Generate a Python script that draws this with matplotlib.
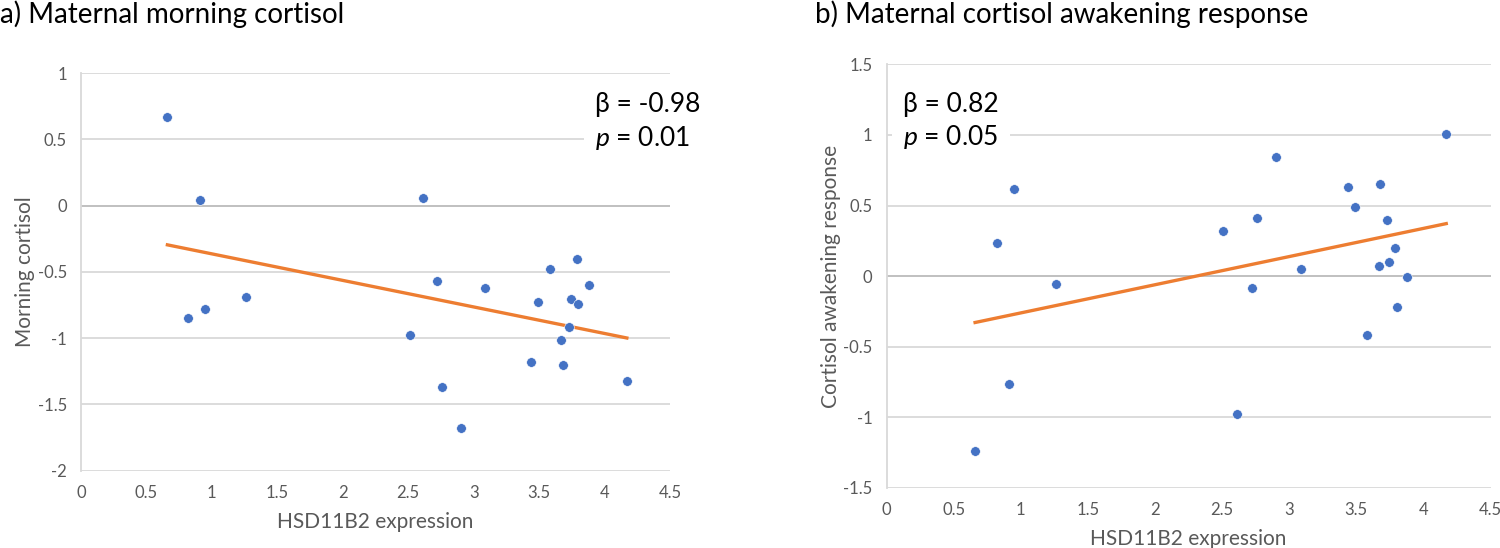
import numpy as np
import matplotlib
matplotlib.use('Agg')
import matplotlib.pyplot as plt
from matplotlib.ticker import FuncFormatter

plt.rcParams['font.family'] = ['Lato', 'DejaVu Sans']
plt.rcParams['mathtext.fontset'] = 'custom'
plt.rcParams['mathtext.rm'] = 'Lato'
plt.rcParams['mathtext.it'] = 'Lato:italic'

# HSD11B2 expression (same participants in both panels)
expression = [0.66, 0.82, 0.91, 0.95, 1.26, 2.51, 2.61, 2.72, 2.76, 2.90, 3.09,
              3.44, 3.49, 3.58, 3.67, 3.68, 3.73, 3.74, 3.79, 3.80, 3.88, 4.17]
morning = [0.67, -0.85, 0.045, -0.78, -0.69, -0.976, 0.056, -0.568, -1.366, -1.676, -0.618,
           -1.178, -0.729, -0.477, -1.016, -1.202, -0.912, -0.703, -0.403, -0.740, -0.602, -1.326]
car = [-1.24, 0.238, -0.762, 0.619, -0.052, 0.319, -0.973, -0.087, 0.411, 0.842, 0.052,
       0.634, 0.493, -0.413, 0.072, 0.656, 0.399, 0.099, 0.203, -0.218, -0.007, 1.005]

titles = ['a) Maternal morning cortisol', 'b) Maternal cortisol awakening response']
ylabels = ['Morning cortisol', 'Cortisol awakening response']
stats = [('-0.98', '0.01'), ('0.82', '0.05')]
yticks = [np.arange(-2, 1.01, 0.5), np.arange(-1.5, 1.51, 0.5)]

BLUE = '#4472C4'
ORANGE = '#ED7D31'
GRAY = '#595959'
GRID = '#D9D9D9'

fig = plt.figure(figsize=(15, 5.48), dpi=100)
ax1 = fig.add_axes([0.054, 0.141, 0.3927, 0.7255])
ax2 = fig.add_axes([0.591, 0.1095, 0.4027, 0.773])
axes = [ax1, ax2]
series = [morning, car]

fmt = FuncFormatter(lambda v, pos: '%g' % round(v, 2) if abs(v) > 1e-9 else '0')

for i, ax in enumerate(axes):
    x = np.array(expression)
    y = np.array(series[i])
    ax.set_xlim(0, 4.5)
    ax.set_ylim(yticks[i][0], yticks[i][-1])
    ax.set_xticks(np.arange(0, 4.51, 0.5))
    ax.set_yticks(yticks[i])
    ax.xaxis.set_major_formatter(fmt)
    ax.yaxis.set_major_formatter(fmt)
    ax.grid(axis='y', color=GRID, linewidth=1.3)
    ax.set_axisbelow(True)
    for s in ['top', 'right', 'bottom']:
        ax.spines[s].set_visible(False)
    ax.spines['left'].set_color(GRID)
    ax.spines['left'].set_linewidth(1.3)
    ax.axhline(0, color='#BFBFBF', linewidth=1.3, zorder=1)
    ax.tick_params(length=0, labelsize=12, labelcolor=GRAY, pad=10)
    ax.set_xlabel('HSD11B2 expression', fontsize=15, color=GRAY, labelpad=8)
    ax.set_ylabel(ylabels[i], fontsize=15, color=GRAY, labelpad=2)

    ax.scatter(x, y, s=48, color=BLUE, edgecolors='white', linewidths=0.4, zorder=3)
    k, b = np.polyfit(x, y, 1)
    xs = np.array([x.min(), x.max()])
    ax.plot(xs, k * xs + b, color=ORANGE, linewidth=2.4, zorder=2)

    fig.text(0.0 if i == 0 else 0.543, 0.975, titles[i], fontsize=20, color='black',
             ha='left', va='center')

beta, p = stats[0]
ax1.text(0.873, 0.877, '\u03b2 = ' + beta + '\n$p$ = ' + p, transform=ax1.transAxes,
         fontsize=19, ha='left', va='center', linespacing=1.3,
         bbox=dict(facecolor='white', edgecolor='none', pad=8), zorder=4)
beta, p = stats[1]
ax2.text(0.027, 0.865, '\u03b2 = ' + beta + '\n$p$ = ' + p, transform=ax2.transAxes,
         fontsize=19, ha='left', va='center', linespacing=1.3,
         bbox=dict(facecolor='white', edgecolor='none', pad=8), zorder=4)

fig.savefig('out.png', dpi=100)
